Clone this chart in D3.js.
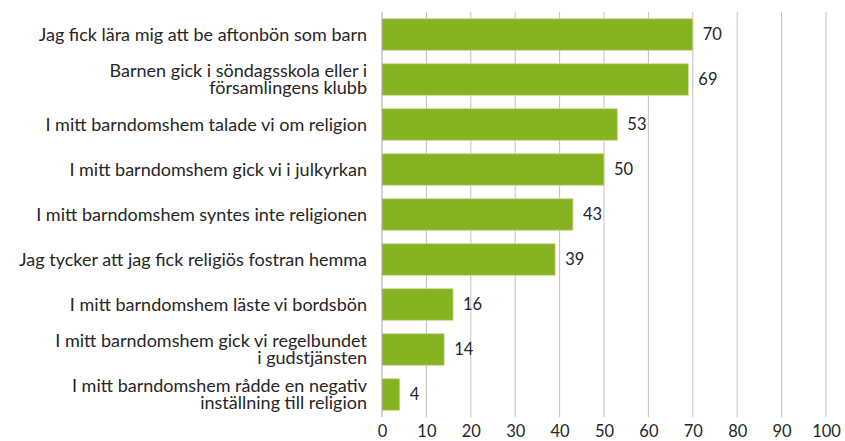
<!DOCTYPE html>
<meta charset="utf-8">
<script src="https://d3js.org/d3.v7.min.js"></script>
<style>
  body { margin: 0; background: #fff; }
  text { font-family: Lato, "Open Sans", sans-serif; fill: #262626; }
</style>
<div id="chart"></div>
<script>

// data
var categories = [
  ["Jag fick lära mig att be aftonbön som barn"],
  ["Barnen gick i söndagsskola eller i", "församlingens klubb"],
  ["I mitt barndomshem talade vi om religion"],
  ["I mitt barndomshem gick vi i julkyrkan"],
  ["I mitt barndomshem syntes inte religionen"],
  ["Jag tycker att jag fick religiös fostran hemma"],
  ["I mitt barndomshem läste vi bordsbön"],
  ["I mitt barndomshem gick vi regelbundet", "i gudstjänsten"],
  ["I mitt barndomshem rådde en negativ", "inställning till religion"]
];
var values = [70, 69, 53, 50, 43, 39, 16, 14, 4];
var xTicks = [0, 10, 20, 30, 40, 50, 60, 70, 80, 90, 100];

var W = 845, H = 441;
var margin = {top: 12, right: 19, bottom: 24, left: 382},
    width = W - margin.left - margin.right,
    height = H - margin.top - margin.bottom;

var svg = d3.select("#chart")
  .append("svg")
    .attr("width", W)
    .attr("height", H)
  .append("g")
    .attr("transform", "translate(" + margin.left + "," + margin.top + ")");

var x = d3.scaleLinear()
  .domain([0, 100])
  .range([0, width]);

var y = d3.scaleBand()
  .domain(d3.range(values.length))
  .range([0, height])
  .paddingInner(0.3)
  .paddingOuter(0.15);

// vertical gridlines
svg.selectAll(".grid")
  .data(xTicks.slice(1))
  .enter()
  .append("line")
    .attr("x1", function(d) { return x(d); })
    .attr("x2", function(d) { return x(d); })
    .attr("y1", 0)
    .attr("y2", height)
    .attr("stroke", "#bfbfbf")
    .attr("stroke-width", 1);

// x axis labels
var xAxis = svg.append("g")
  .attr("transform", "translate(0," + height + ")")
  .call(d3.axisBottom(x).tickValues(xTicks).tickSize(0).tickPadding(8));
xAxis.select(".domain").remove();
xAxis.selectAll("text")
  .style("font-size", "16.5px")
  .style("font-family", "Lato, 'Open Sans', sans-serif")
  .attr("fill", "#262626");

// bars
svg.selectAll(".bar")
  .data(values)
  .enter()
  .append("rect")
    .attr("x", x(0))
    .attr("y", function(d, i) { return y(i); })
    .attr("width", function(d) { return x(d) - x(0); })
    .attr("height", y.bandwidth())
    .attr("fill", "#86b120")
    .attr("stroke", "#c8dc9a")
    .attr("stroke-width", 0.8);

// value labels
svg.selectAll(".val")
  .data(values)
  .enter()
  .append("text")
    .attr("x", function(d) { return x(d) + 10; })
    .attr("y", function(d, i) { return y(i) + y.bandwidth() / 2; })
    .attr("dy", "0.35em")
    .style("font-size", "16.5px")
    .text(function(d) { return d; });

// left axis line
svg.append("line")
  .attr("x1", x(0)).attr("x2", x(0))
  .attr("y1", 0).attr("y2", height)
  .attr("stroke", "#a6a6a6")
  .attr("stroke-width", 1);

// category labels
var labels = svg.selectAll(".cat")
  .data(categories)
  .enter()
  .append("text")
    .attr("text-anchor", "end")
    .style("font-size", "18px")
    .attr("transform", function(d, i) {
      return "translate(-15," + (y(i) + y.bandwidth() / 2) + ")";
    });

labels.selectAll("tspan")
  .data(function(d) { return d; })
  .enter()
  .append("tspan")
    .attr("x", 0)
    .attr("y", function(d, j, nodes) {
      var n = nodes.length;
      return (j - (n - 1) / 2) * 17;
    })
    .attr("dy", "0.35em")
    .text(function(d) { return d; });

</script>
